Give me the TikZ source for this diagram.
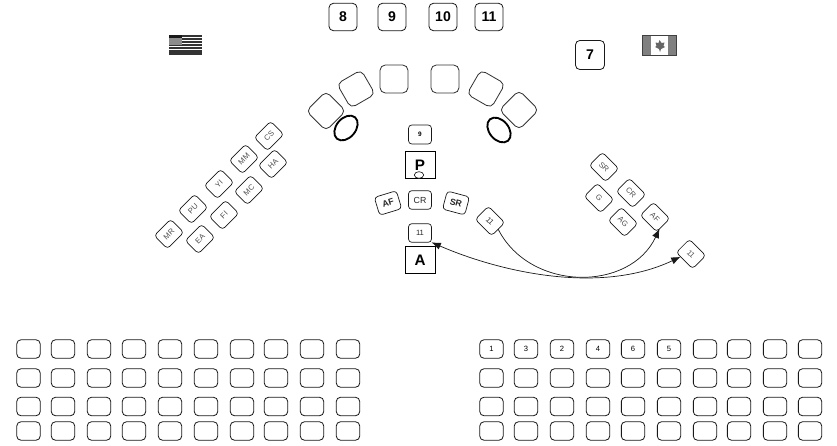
\documentclass[tikz,border=0pt]{standalone}
\usepackage{fontspec}
\setmainfont{Liberation Sans}
\usepackage{xcolor}
\usetikzlibrary{arrows.meta,shapes.geometric}

\begin{document}
\begin{tikzpicture}[
  x=0.03cm, y=-0.03cm,
  font=\small,
  numbox/.style={draw=black!90, line width=0.7pt, rounded corners=0.13cm, inner sep=0pt, outer sep=0pt,
                 minimum width=0.84cm, minimum height=0.82cm, font=\fontsize{12}{12}\selectfont\bfseries},
  bigseat/.style={draw=black!80, line width=0.7pt, rounded corners=0.16cm, inner sep=0pt, outer sep=0pt,
                  minimum size=0.84cm},
  ring/.style={draw, ellipse, line width=1.6pt, inner sep=0pt, minimum width=0.84cm, minimum height=0.58cm},
  tag/.style={draw=black!90, line width=0.6pt, rounded corners=0.1cm, inner sep=0pt, outer sep=0pt,
              minimum width=0.69cm, minimum height=0.56cm, text=black!70, font=\fontsize{6.5}{7}\selectfont},
  midtag/.style={tag, text=black!85, font=\fontsize{7.5}{8}\selectfont\bfseries},
  chair/.style={draw, line width=0.6pt, inner sep=0pt, outer sep=0pt,
                minimum width=0.9cm, minimum height=0.79cm, font=\fontsize{13}{13}\selectfont\bfseries},
  rowseat/.style={draw=black!90, line width=0.7pt, rounded corners=0.12cm, inner sep=0pt, outer sep=0pt,
                  minimum width=0.7cm, minimum height=0.55cm, font=\fontsize{6.5}{7}\selectfont},
  flow/.style={-{Latex[length=2.8mm,width=2.2mm]}, line width=0.6pt, black!90},
  twoway/.style={{Latex[length=2.8mm,width=2.2mm]}-{Latex[length=2.8mm,width=2.2mm]}, line width=0.6pt, black!90}
]
\useasboundingbox (0,0) rectangle (837,445);

\node[numbox] (n8) at (343,17) {8};
\node[numbox] (n9) at (392,17) {9};
\node[numbox] (n10) at (443,17) {10};
\node[numbox] (n11) at (489,17) {11};
\node[numbox, minimum size=0.87cm] (n7) at (590,55) {7};

% flags
\fill[white] (169,35) rectangle (202,54);
\foreach \y in {35,38,...,53}
  \fill[black!80] (169,\y) rectangle (202,\y+1.5);
\fill[black!80] (169,52) rectangle (202,54);
\fill[black!45] (169,35) rectangle (182,45);
\fill[black!90] (169,35) rectangle (182,38);
\fill[black!75] (642,35) rectangle (677,56);
\fill[black!50] (643,36) rectangle (651,55);
\fill[black!50] (668,36) rectangle (676,55);
\fill[white] (651,36) rectangle (668,55);
\fill[black!60] (659.5,40) -- (661.5,43) -- (664.5,42.5) -- (663.5,46) -- (665,47) -- (661,49)
  -- (660,52) -- (659,49) -- (655,47) -- (656.5,46) -- (655.5,42.5) -- (658.5,43) -- cycle;

\node[bigseat, rotate=45] (s1) at (326,111) {};
\node[bigseat, rotate=30] (s2) at (356,89) {};
\node[bigseat] (s3) at (394,79) {};
\node[bigseat] (s4) at (445,79) {};
\node[bigseat, rotate=-30] (s5) at (486,89) {};
\node[bigseat, rotate=45] (s6) at (519,110) {};
\node[ring, rotate=50] (r1) at (346,128) {};
\node[ring, rotate=-50] (r2) at (499,130) {};

\foreach \lab/\px/\py in {CS/269/136,MM/244/159,YI/219/184,PU/193/209,MR/169/234,
                          HA/273/164,MC/249/190,FI/224/215,EA/200/239}
  \node[tag, rotate=45] (u\lab) at (\px,\py) {\lab};

\foreach \lab/\px/\py in {SR/604/167,CR/631/193,G/599/198,AG/623/222}
  \node[tag, rotate=-45] (c\lab) at (\px,\py) {\lab};
\node[tag, rotate=-45] (cAF) at (655,217) {AF};
\node[tag, rotate=-45] (far) at (691,254) {11};

\node[tag, text=black, minimum height=0.57cm, font=\fontsize{5.5}{6}\selectfont\bfseries] (q9) at (420,134.5) {9};
\node[chair] (pbox) at (420,165) {P};
\node[draw, ellipse, fill=white, line width=0.5pt, inner sep=0pt, minimum width=0.28cm, minimum height=0.2cm] (pdot) at (419,175) {};
\node[midtag, rotate=17] (mAF) at (388,203) {AF};
\node[midtag, font=\fontsize{7.5}{8}\selectfont] (mCR) at (420,200) {CR};
\node[midtag, rotate=-15] (mSR) at (456,203) {SR};
\node[tag, rotate=-45, text=black!85] (mov) at (490,221) {11};
\node[tag, text=black!85] (q11) at (420,233) {11};
\node[chair] (abox) at (420,260) {A};

\draw[flow] (mov.east) .. controls (530,292) and (630,292) .. (cAF.-24);
\draw[twoway] (q11.south east) .. controls (500,272) and (600,295) .. (far.240);

\foreach \px [count=\i] in {28.5,63,99,134,170,206,242,276,312,348}
  \foreach \py [count=\j] in {349,378,406.5,431}
    \node[rowseat] (l\i-\j) at (\px,\py) {};

\foreach \px/\lab [count=\i] in {491.5/1,526/3,562/2,598/4,633/6,669/5,705/,739/,775/,810/}
  \node[rowseat] (r\i-1) at (\px,349) {\lab};
\foreach \px [count=\i] in {491.5,526,562,598,633,669,705,739,775,810}
  \foreach \py [count=\j from 2] in {378,406.5,431}
    \node[rowseat] (r\i-\j) at (\px,\py) {};
\end{tikzpicture}
\end{document}
